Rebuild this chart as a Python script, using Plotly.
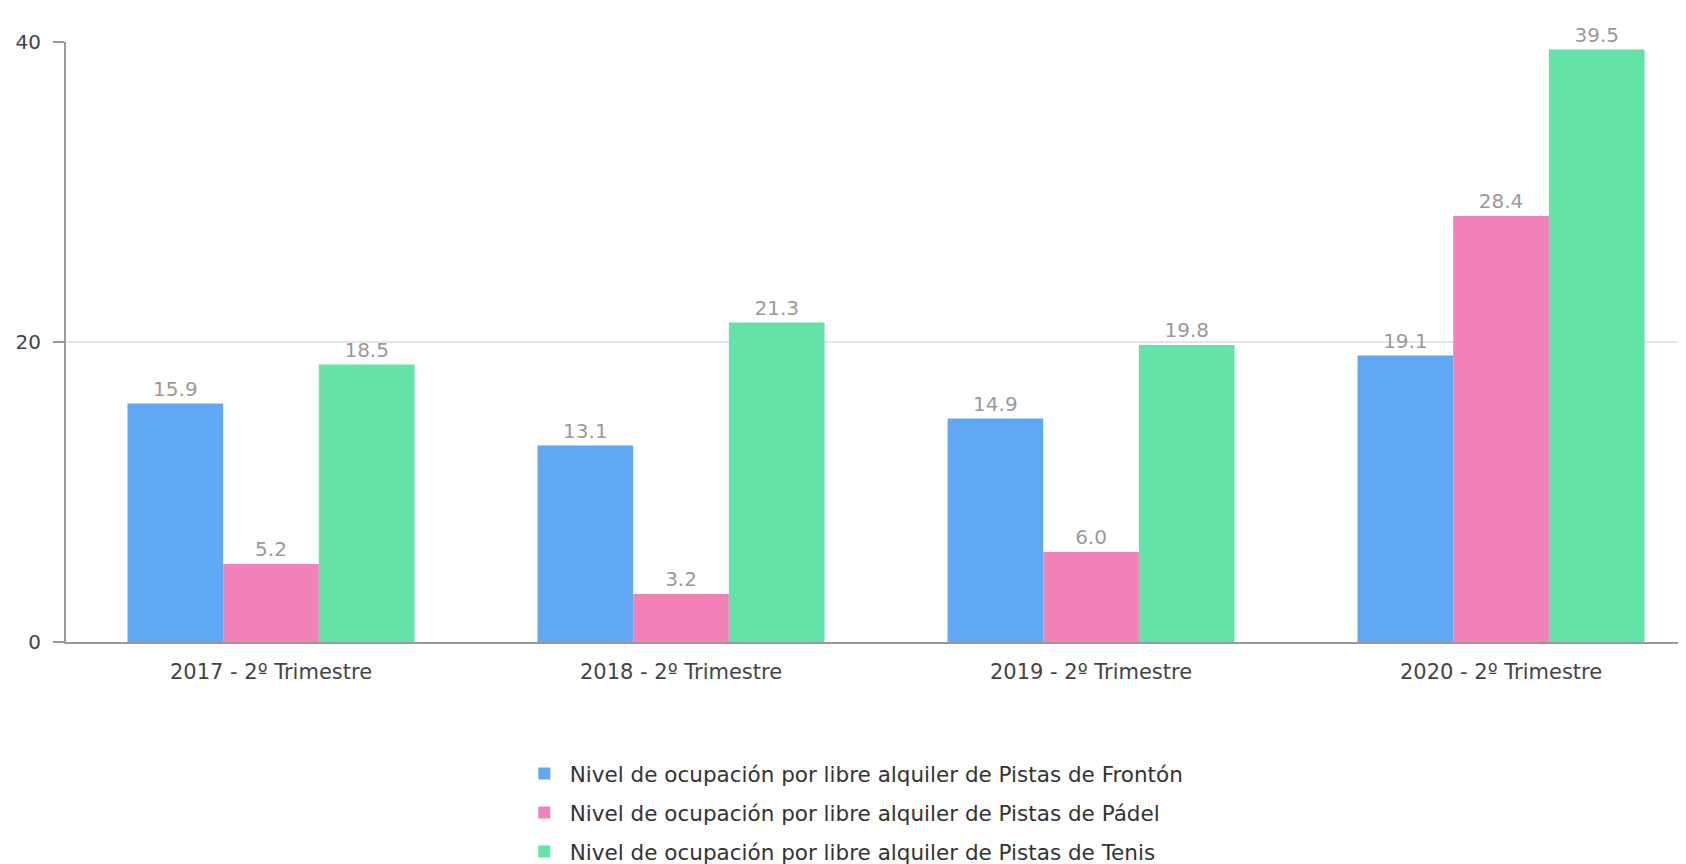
import plotly.graph_objects as go

categories = ["2017 - 2º Trimestre", "2018 - 2º Trimestre", "2019 - 2º Trimestre", "2020 - 2º Trimestre"]
series_names = [
    "Nivel de ocupación por libre alquiler de Pistas de Frontón",
    "Nivel de ocupación por libre alquiler de Pistas de Pádel",
    "Nivel de ocupación por libre alquiler de Pistas de Tenis",
]
fronton = [15.9, 13.1, 14.9, 19.1]
padel = [5.2, 3.2, 6.0, 28.4]
tenis = [18.5, 21.3, 19.8, 39.5]
colors = ["#60A8F3", "#F082B8", "#64E3A9"]

fig = go.Figure()
for i, (name, vals, col) in enumerate(zip(series_names, [fronton, padel, tenis], colors)):
    fig.add_trace(go.Bar(
        x=categories, y=vals, name=name, legendgroup=f"g{i}",
        marker=dict(color=col, line=dict(width=0)),
        text=[f"{v:.1f}" for v in vals], textposition="outside",
        textfont=dict(family="DejaVu Sans", size=20, color="#9a9a9a"),
        cliponaxis=False,
    ))

fig.update_layout(
    width=1678, height=856,
    margin=dict(l=58, r=0, t=34, b=222, autoexpand=False),
    plot_bgcolor="white", paper_bgcolor="white",
    barmode="group", bargap=0.3, bargroupgap=0,
    font=dict(family="DejaVu Sans", color="#444"),
    xaxis=dict(range=[-0.5, 3.451], showline=True, linecolor="#999", linewidth=2,
               ticks="", tickfont=dict(size=21, color="#444"), showgrid=False,
               ticklabelstandoff=10),
    yaxis=dict(range=[0, 40], tickvals=[0, 20, 40], showline=True, linecolor="#999", linewidth=2,
               ticks="outside", ticklen=11, tickcolor="#999", tickwidth=2,
               gridcolor="#e6e6e6", gridwidth=2, tickfont=dict(size=20, color="#444"),
               zeroline=False, automargin=False, ticklabelstandoff=8),
    showlegend=True,
    legend=dict(orientation="v", x=0.2795, xanchor="left", y=-0.185, yanchor="top",
                font=dict(size=21.5, color="#333"), traceorder="grouped",
                itemwidth=41, tracegroupgap=8),
)

fig.write_html("out.html")
